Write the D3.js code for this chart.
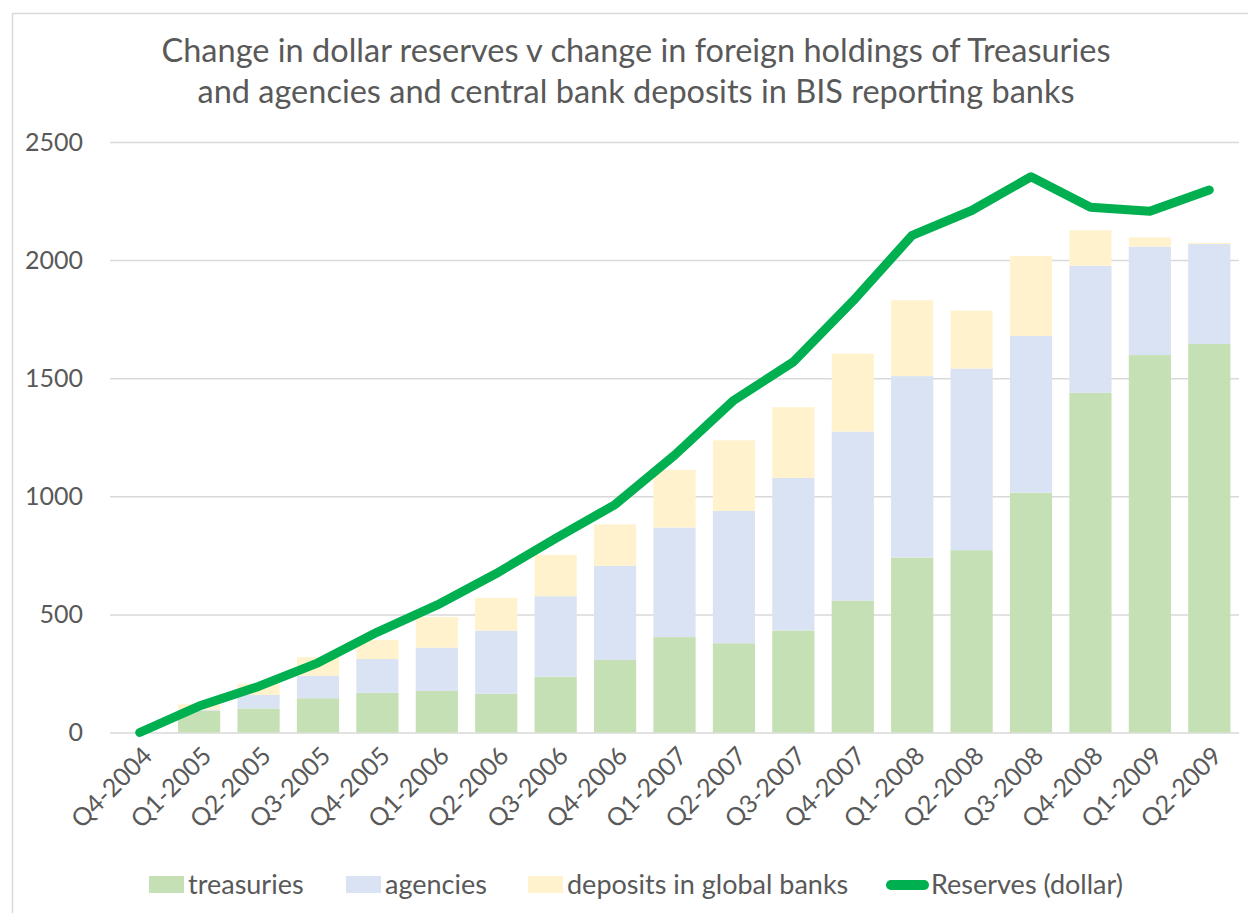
<!DOCTYPE html>
<html>
<head>
<meta charset="utf-8">
<script src="https://cdn.jsdelivr.net/npm/d3@7"></script>
<style>
  body { margin: 0; background: #fff; }
  svg { display: block; font-family: Lato, "Open Sans", sans-serif; }
</style>
</head>
<body>
<svg id="chart" width="1248" height="913"></svg>
<script>
var quarters = ['Q4-2004', 'Q1-2005', 'Q2-2005', 'Q3-2005', 'Q4-2005', 'Q1-2006', 'Q2-2006',
    'Q3-2006', 'Q4-2006', 'Q1-2007', 'Q2-2007', 'Q3-2007', 'Q4-2007', 'Q1-2008', 'Q2-2008',
    'Q3-2008', 'Q4-2008', 'Q1-2009', 'Q2-2009'];
var treasuries = [0, 92, 102, 145, 168, 176, 164, 236, 307, 404, 378, 432, 558, 741, 772, 1015, 1438, 1598, 1645];
var agencies   = [0, 5, 57, 95, 143, 183, 267, 341, 399, 464, 560, 646, 716, 768, 769, 664, 538, 459, 423];
var deposits   = [0, 22, 46, 79, 80, 130, 139, 175, 175, 244, 299, 299, 330, 321, 245, 339, 150, 39, 5];
var reserves   = [0, 112, 195, 295, 425, 539, 673, 822, 965, 1174, 1407, 1569, 1826, 2105, 2210, 2353, 2224, 2207, 2297];
var yTicks     = [0, 500, 1000, 1500, 2000, 2500];

var seriesNames  = ['treasuries', 'agencies', 'deposits in global banks'];
var seriesColors = ['#c5e0b4', '#dae3f3', '#fff2cc'];
var lineColor    = '#00b050';
var textColor    = '#595959';

var svg = d3.select('#chart');

var plot = { left: 110, right: 1239, top: 142, bottom: 732.5 };

// chart frame
svg.append('rect')
    .attr('x', 12.5).attr('y', 13.5)
    .attr('width', 1260).attr('height', 920)
    .attr('fill', 'none')
    .attr('stroke', '#d9d9d9')
    .attr('stroke-width', 1.5)
;

var x = d3.scaleBand()
    .domain(quarters)
    .range([plot.left, plot.right])
    .paddingInner(0.29)
    .paddingOuter(0.145)
;

var y = d3.scaleLinear()
    .domain([0, 2500])
    .range([plot.bottom, plot.top])
;

// gridlines + y labels
var yAxis = svg.append('g')
    .attr('transform', `translate(${ plot.left }, 0)`)
    .call(d3.axisLeft(y)
        .tickValues(yTicks)
        .tickFormat(d3.format('d'))
        .tickSize(-(plot.right - plot.left))
        .tickPadding(27))
;
yAxis.select('.domain').remove();
yAxis.selectAll('.tick line').attr('stroke', '#d9d9d9').attr('stroke-width', 1.5);
yAxis.selectAll('.tick text')
    .attr('fill', textColor)
    .style('font-size', '25px')
    .style('font-family', 'Lato, sans-serif')
;

// stacked bars
var rows = quarters.map((q, i) => ({
    quarter: q,
    treasuries: treasuries[i],
    agencies: agencies[i],
    deposits: deposits[i]
}));
var stack = d3.stack().keys(['treasuries', 'agencies', 'deposits'])(rows);

svg.append('g').selectAll('g')
    .data(stack)
    .enter().append('g')
    .attr('fill', (s, i) => seriesColors[i])
    .each(function () {
        d3.select(this).selectAll('rect')
            .data(s => s)
            .enter().append('rect')
            .attr('x', d => x(d.data.quarter))
            .attr('width', x.bandwidth())
            .attr('y', d => y(d[1]))
            .attr('height', d => Math.max(0, y(d[0]) - y(d[1])))
        ;
    })
;

// x axis labels
var xAxis = svg.append('g')
    .attr('transform', `translate(0, ${ plot.bottom })`)
    .call(d3.axisBottom(x).tickSize(0).tickPadding(0))
;
xAxis.select('.domain').remove();
xAxis.selectAll('.tick text')
    .attr('fill', textColor)
    .style('font-size', '25px')
    .style('font-family', 'Lato, sans-serif')
    .attr('text-anchor', 'end')
    .attr('dy', null)
    .attr('y', 0)
    .attr('transform', 'translate(14, 25) rotate(-45)')
;

// reserves line
var line = d3.line()
    .x((d, i) => x(quarters[i]) + x.bandwidth() / 2)
    .y(d => y(d))
;
svg.append('path')
    .datum(reserves)
    .attr('d', line)
    .attr('fill', 'none')
    .attr('stroke', lineColor)
    .attr('stroke-width', 9)
    .attr('stroke-linejoin', 'round')
    .attr('stroke-linecap', 'round')
;

// title
var title = svg.append('text')
    .attr('text-anchor', 'middle')
    .attr('fill', textColor)
    .style('font-size', '32.5px')
;
title.append('tspan').attr('x', 636).attr('y', 62)
    .text('Change in dollar reserves v change in foreign holdings of Treasuries');
title.append('tspan').attr('x', 636).attr('y', 103)
    .text('and agencies and central bank deposits in BIS reporting banks');

// legend
var legendY = 885;
var legend = svg.append('g').style('font-size', '27px').attr('fill', textColor);
var swatchX = [149, 346, 528];
seriesNames.forEach((name, i) => {
    legend.append('rect')
        .attr('x', swatchX[i]).attr('y', legendY - 9)
        .attr('width', 35).attr('height', 17)
        .attr('fill', seriesColors[i]);
    legend.append('text')
        .attr('x', swatchX[i] + 39).attr('y', legendY + 9)
        .text(name);
});
legend.append('line')
    .attr('x1', 891).attr('x2', 924)
    .attr('y1', legendY).attr('y2', legendY)
    .attr('stroke', lineColor)
    .attr('stroke-width', 10)
    .attr('stroke-linecap', 'round');
legend.append('text')
    .attr('x', 931).attr('y', legendY + 9)
    .text('Reserves (dollar)');
</script>
</body>
</html>
